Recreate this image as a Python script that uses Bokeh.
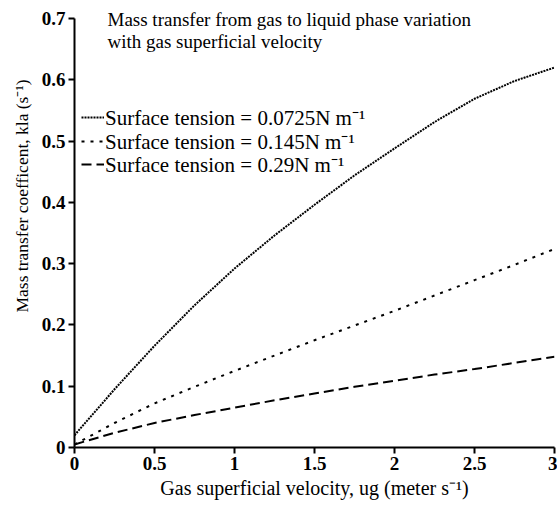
from bokeh.plotting import figure
from bokeh.models import FixedTicker, Legend, LegendItem, Label, Title
from bokeh.embed import file_html
from bokeh.resources import INLINE

# Data
ug = [0, 0.25, 0.5, 0.75, 1.0, 1.25, 1.5, 1.75, 2.0, 2.25, 2.5, 2.75, 3.0]
kla_0725 = [0.02, 0.095, 0.166, 0.232, 0.292, 0.346, 0.396, 0.444, 0.488, 0.531, 0.569, 0.598, 0.62]
kla_145 = [0.005, 0.04, 0.072, 0.099, 0.125, 0.150, 0.175, 0.199, 0.223, 0.248, 0.273, 0.298, 0.324]
kla_29 = [0.005, 0.024, 0.04, 0.053, 0.065, 0.077, 0.088, 0.099, 0.109, 0.119, 0.128, 0.138, 0.148]

x_ticks = [0, 0.5, 1, 1.5, 2, 2.5, 3]
x_tick_labels = ["0", "0.5", "1", "1.5", "2", "2.5", "3"]
y_ticks = [0, 0.1, 0.2, 0.3, 0.4, 0.5, 0.6, 0.7]
y_tick_labels = ["0", "0.1", "0.2", "0.3", "0.4", "0.5", "0.6", "0.7"]

series_labels = ["Surface tension = 0.0725N m\u207b\u00b9",
                 "Surface tension = 0.145N m\u207b\u00b9",
                 "Surface tension = 0.29N m\u207b\u00b9"]
title_lines = ["Mass transfer from gas to liquid phase variation",
               "with gas superficial velocity"]
x_label = "Gas superficial velocity, ug (meter s\u207b\u00b9)"
y_label = "Mass transfer coefficent, kla (s\u207b\u00b9)"

FONT = "Liberation Serif"
Y_MAX = 0.7
# leave 18 px of headroom above 0.7 inside the frame (for the in-plot title)
y_top = Y_MAX + 18 * Y_MAX / 429

p = figure(width=557, height=506, output_backend="svg", toolbar_location=None,
           x_range=(0, 3), y_range=(0, y_top),
           min_border_left=74, min_border_right=3, min_border_top=0, min_border_bottom=59)
p.xgrid.visible = False
p.ygrid.visible = False
p.outline_line_color = None
p.background_fill_color = "white"

r1 = p.line(ug, kla_0725, line_color="black", line_width=2, line_dash="2 1")
r2 = p.line(ug, kla_145, line_color="black", line_width=2, line_dash="3 6")
r3 = p.line(ug, kla_29, line_color="black", line_width=2, line_dash="10 5")

for ax in (p.xaxis[0], p.yaxis[0]):
    ax.axis_line_width = 2
    ax.major_tick_line_width = 2
    ax.major_tick_in = 0
    ax.major_tick_out = 6
    ax.minor_tick_line_color = None
    ax.major_label_text_font = FONT
    ax.major_label_text_font_style = "bold"
    ax.major_label_text_font_size = "19px"
    ax.major_label_text_color = "black"
    ax.axis_label_text_font = FONT
    ax.axis_label_text_font_style = "normal"
    ax.axis_label_text_font_size = "20px"
    ax.axis_label_text_color = "black"

p.xaxis[0].ticker = FixedTicker(ticks=x_ticks)
p.xaxis[0].major_label_overrides = {t: l for t, l in zip(x_ticks, x_tick_labels)}
p.yaxis[0].ticker = FixedTicker(ticks=y_ticks)
p.yaxis[0].major_label_overrides = {t: l for t, l in zip(y_ticks, y_tick_labels)}
p.yaxis[0].bounds = (0, Y_MAX)
p.xaxis[0].axis_label = x_label
p.xaxis[0].major_label_standoff = 3
p.xaxis[0].axis_label_standoff = 4
p.yaxis[0].major_label_standoff = 3

p.add_layout(Title(text=y_label, align="left", offset=135, text_font=FONT,
                   text_font_size="17.5px", text_font_style="normal",
                   text_color="black", standoff=14), "left")

for i, (lab, r, ly) in enumerate(zip(series_labels, [r1, r2, r3], [316, 292, 269])):
    lg = Legend(items=[LegendItem(label=lab, renderers=[r])],
                location=(7, ly), background_fill_alpha=0, border_line_color=None,
                label_text_font=FONT, label_text_font_size="21px", label_text_color="black",
                glyph_width=23, glyph_height=18, label_standoff=1, spacing=0,
                padding=2, margin=0, label_height=18)
    p.add_layout(lg)

for i, t in enumerate(title_lines):
    p.add_layout(Label(x=33, y=439 - 22 * i, x_units="screen", y_units="screen", text=t,
                       text_font=FONT, text_font_size="19px", text_baseline="top",
                       text_color="black"))

open("out.html", "w").write(file_html(p, INLINE))
